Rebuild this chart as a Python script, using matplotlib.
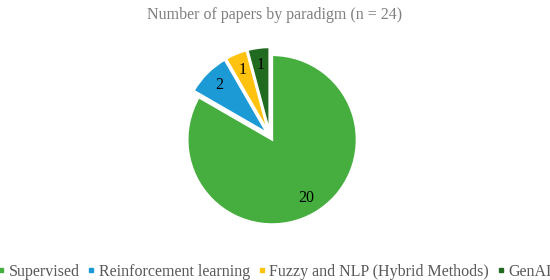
import matplotlib.pyplot as plt
from matplotlib.lines import Line2D

# data
paradigms = ['Supervised', 'Reinforcement learning', 'Fuzzy and NLP (Hybrid Methods)', 'GenAI']
papers = [20, 2, 1, 1]
colors = ['#46AE3E', '#1B9AD6', '#FFC20E', '#216B21']

plt.rcParams['font.family'] = ['Liberation Serif', 'DejaVu Serif']

fig = plt.figure(figsize=(5.5, 2.8), dpi=100)
ax = fig.add_axes([160 / 550, 34 / 280, 220 / 550, 220 / 280])

wedges, texts = ax.pie(papers, colors=colors, startangle=90, counterclock=False,
                       explode=[0.05] * len(papers), labels=[str(p) for p in papers],
                       labeldistance=0.8, textprops={'fontsize': 11.5, 'color': 'black'},
                       wedgeprops={'edgecolor': 'white', 'linewidth': 1.5})
for t in texts:
    t.set_ha('center')
    t.set_va('center')
ax.set_xlim(-1.3, 1.3)
ax.set_ylim(-1.3, 1.3)
ax.set_aspect('equal')
ax.axis('off')

fig.suptitle('Number of papers by paradigm (n = 24)', y=0.975, fontsize=11.5, color='#7F7F7F')

handles = [Line2D([], [], marker='s', linestyle='none', markersize=3.5,
                  markerfacecolor=c, markeredgecolor=c) for c in colors]
fig.legend(handles, paradigms, loc='lower center', bbox_to_anchor=(0.5, -0.04), ncol=4,
           frameon=False, fontsize=11.5, labelcolor='#595959', handlelength=0.35,
           handletextpad=0.3, columnspacing=0.55, borderaxespad=0.3)

fig.savefig('out.png', dpi=100)
